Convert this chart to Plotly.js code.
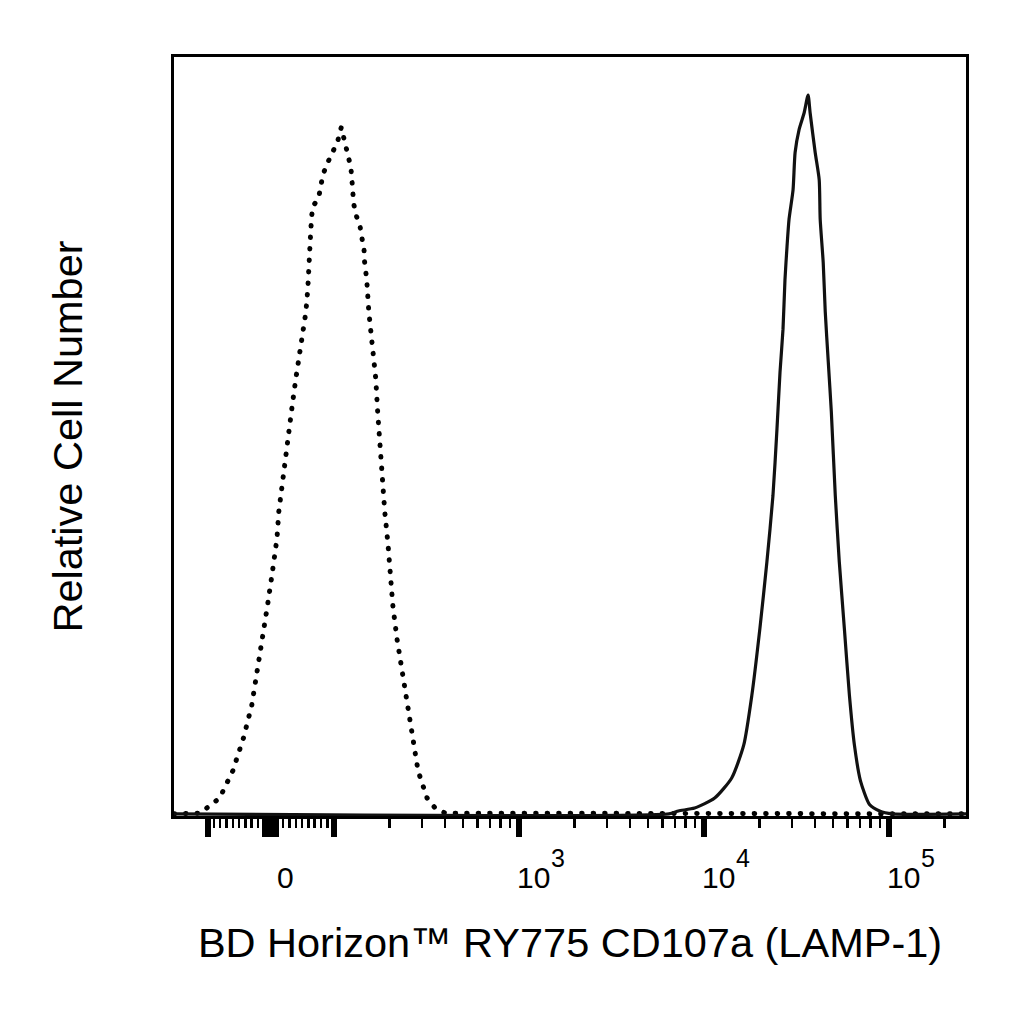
<!DOCTYPE html>
<html>
<head>
<meta charset="utf-8">
<script src="https://cdn.plot.ly/plotly-3.0.1.min.js"></script>
<style>
    html, body { margin: 0; padding: 0; background: #fff; }
    #histogram { width: 1024px; height: 1024px; }
    /* round caps turn the short dashes into dots */
    .scatterlayer .js-line { stroke-linecap: round; }
</style>
</head>
<body>
<div id="histogram"></div>
<script>
// fluorescence intensity (x) and relative cell number (y)
let isotypeX = [-152, -110, -97, -81, -60, -43, -30, -21, -13, -5, 3, 10, 13, 19, 25, 33, 40, 48, 56, 59,
    60, 63, 65, 67, 76, 79, 83, 89, 98, 105, 110, 116, 121, 124, 127, 128, 133, 139, 142, 146,
    147, 151, 155, 163, 169, 173, 178, 182, 189, 197, 202, 209, 220, 234, 249, 265, 286, 320, 354, 401,
    262144];
let isotypeY = [0, 0.1, 1.1, 2.2, 6.0, 10.6, 15.1, 19.9, 24.4, 29.0, 33.8, 38.3, 42.1, 46.7, 51.3, 56.0, 60.6, 65.1, 69.9, 73.1,
    76.3, 80.0, 83.1, 84.6, 85.7, 87.4, 89.0, 90.4, 92.1, 93.6, 95.6, 93.2, 91.5, 90.0, 86.7, 85.1, 83.2, 81.8, 80.3, 78.6,
    76.9, 74.4, 69.9, 65.1, 60.6, 56.0, 51.3, 46.7, 42.1, 37.4, 33.8, 29.0, 24.4, 19.9, 15.1, 10.6, 6.0, 2.2, 0.8, 0.1,
    0];

let stainedX = [-152, 6500, 7310, 8940, 11480, 14190, 16490, 18230, 20150, 21990,
    23710, 24930, 25890, 26870, 27540, 28250, 28970, 30450, 31240, 32830,
    34940, 36720, 37670, 40110, 42170, 42690, 44320, 45470, 47220, 49030,
    51520, 54150, 57680, 61420, 65340, 70470, 78850, 89370, 105100, 262144];
let stainedY = [0, 0, 0.4, 0.8, 2.2, 5.0, 9.6, 16.5, 25.8, 35.1,
    44.3, 53.6, 61.5, 67.5, 74.4, 79.0, 82.8, 86.9, 92.1, 95.3,
    97.6, 100.1, 97.6, 92.1, 88.3, 82.8, 76.8, 69.9, 62.9, 56.0,
    44.3, 35.1, 25.8, 16.5, 9.6, 4.6, 1.3, 0.4, 0, 0];

// axis ticks in intensity units
let labelValues = [0, 1000, 10000, 100000];
let labelBases = ['0', '10', '10', '10'];
let labelExponents = ['', '3', '4', '5'];
let majorValues = [-100, 100, 1000, 10000, 100000];
let zeroBlockValues = [-9, -8, -7, -6, -5, -4, -3, -2, -1, 0, 1, 2, 3, 4, 5, 6, 7, 8, 9];
let minorValues = [-90, -80, -70, -60, -50, -40, -30, -20, -10,
    10, 20, 30, 40, 50, 60, 70, 80, 90,
    200, 300, 400, 500, 600, 700, 800, 900,
    2000, 3000, 4000, 5000, 6000, 7000, 8000, 9000,
    20000, 30000, 40000, 50000, 60000, 70000, 80000, 90000,
    200000];
let axisMin = -152;
let axisMax = 262144;

// biexponential-style display: linear near zero, log above 100
let linearWidth = 100;
let linearSpan = 0.3405;
let toDisplay = function (v) {
    let a = Math.abs(v);
    let d = a <= linearWidth ? a / linearWidth * linearSpan : linearSpan + Math.log10(a / linearWidth);
    return v < 0 ? -d : d;
}

let fontFamily = '"Liberation Sans", Arial, sans-serif';

let isotypeData = {
    x: isotypeX.map(toDisplay),
    y: isotypeY,
    type: 'scatter',
    mode: 'lines',
    name: 'Isotype control',
    line: { color: '#000', width: 5, dash: '0.5px,11px' },
    hoverinfo: 'skip'
};

let stainedData = {
    x: stainedX.map(toDisplay),
    y: stainedY,
    type: 'scatter',
    mode: 'lines',
    name: 'CD107a',
    line: { color: '#111', width: 3.2, shape: 'spline', smoothing: 0.6 },
    hoverinfo: 'skip'
};

// tick labels sit to the right of their ticks, so they are drawn as annotations
let labelAnnotations = [];
labelValues.forEach(function (v, i) {
    labelAnnotations.push({
        x: toDisplay(v),
        xref: 'x',
        y: 0,
        yref: 'paper',
        xanchor: 'left',
        yanchor: 'bottom',
        xshift: v === 0 ? 4 : -4,
        yshift: -80,
        text: labelBases[i],
        showarrow: false,
        font: { family: fontFamily, size: 30, color: '#000' }
    });
    if (labelExponents[i]) {
        labelAnnotations.push({
            x: toDisplay(v),
            xref: 'x',
            y: 0,
            yref: 'paper',
            xanchor: 'left',
            yanchor: 'bottom',
            xshift: 30,
            yshift: -58,
            text: labelExponents[i],
            showarrow: false,
            font: { family: fontFamily, size: 25, color: '#000' }
        });
    }
});

let layout = {
    width: 1024,
    height: 1024,
    margin: { l: 174, r: 58, t: 57, b: 208 },
    paper_bgcolor: '#fff',
    plot_bgcolor: '#fff',
    showlegend: false,
    xaxis: {
        range: [toDisplay(axisMin), toDisplay(axisMax)],
        showgrid: false,
        zeroline: false,
        showline: true,
        mirror: true,
        linecolor: '#000',
        linewidth: 3,
        tickmode: 'array',
        tickvals: majorValues.concat(zeroBlockValues).map(toDisplay),
        ticks: 'outside',
        ticklen: 18,
        tickwidth: 6,
        tickcolor: '#000',
        showticklabels: false,
        minor: {
            tickmode: 'array',
            tickvals: minorValues.map(toDisplay),
            ticks: 'outside',
            ticklen: 9,
            tickwidth: 2.5,
            tickcolor: '#000',
            showgrid: false
        },
        title: {
            text: 'BD Horizon™ RY775 CD107a (LAMP-1)',
            font: { family: fontFamily, size: 41.5, color: '#000' },
            standoff: 92
        }
    },
    yaxis: {
        range: [-0.3, 105.4],
        showgrid: false,
        zeroline: false,
        showline: true,
        mirror: true,
        linecolor: '#000',
        linewidth: 3,
        ticks: '',
        showticklabels: false,
        title: {
            text: 'Relative Cell Number',
            font: { family: fontFamily, size: 41.5, color: '#000' },
            standoff: 76
        }
    },
    annotations: labelAnnotations
};

Plotly.newPlot('histogram', [isotypeData, stainedData], layout, { staticPlot: true });
</script>
</body>
</html>
